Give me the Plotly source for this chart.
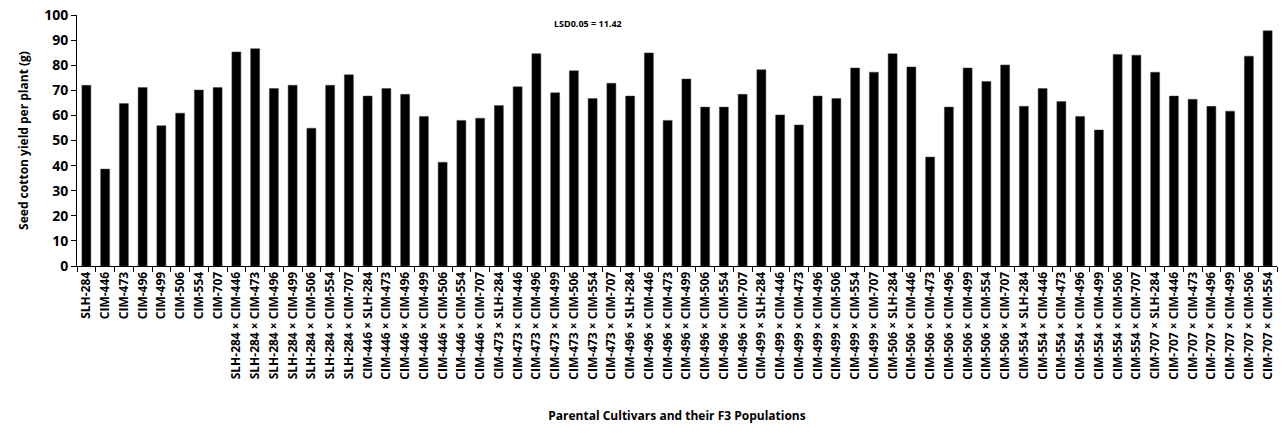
import plotly.graph_objects as go

# Parents and F3 cross populations, in plotting order
parents = ["SLH-284", "CIM-446", "CIM-473", "CIM-496", "CIM-499", "CIM-506", "CIM-554", "CIM-707"]
crosses = [
    "SLH-284 × CIM-446", "SLH-284 × CIM-473", "SLH-284 × CIM-496", "SLH-284 × CIM-499",
    "SLH-284 × CIM-506", "SLH-284 × CIM-554", "SLH-284 × CIM-707",
    "CIM-446 × SLH-284", "CIM-446 × CIM-473", "CIM-446 × CIM-496", "CIM-446 × CIM-499",
    "CIM-446 × CIM-506", "CIM-446 × CIM-554", "CIM-446 × CIM-707",
    "CIM-473 × SLH-284", "CIM-473 × CIM-446", "CIM-473 × CIM-496", "CIM-473 × CIM-499",
    "CIM-473 × CIM-506", "CIM-473 × CIM-554", "CIM-473 × CIM-707",
    "CIM-496 × SLH-284", "CIM-496 × CIM-446", "CIM-496 × CIM-473", "CIM-496 × CIM-499",
    "CIM-496 × CIM-506", "CIM-496 × CIM-554", "CIM-496 × CIM-707",
    "CIM-499 × SLH-284", "CIM-499 × CIM-446", "CIM-499 × CIM-473", "CIM-499 × CIM-496",
    "CIM-499 × CIM-506", "CIM-499 × CIM-554", "CIM-499 × CIM-707",
    "CIM-506 × SLH-284", "CIM-506 × CIM-446", "CIM-506 × CIM-473", "CIM-506 × CIM-496",
    "CIM-506 × CIM-499", "CIM-506 × CIM-554", "CIM-506 × CIM-707",
    "CIM-554 × SLH-284", "CIM-554 × CIM-446", "CIM-554 × CIM-473", "CIM-554 × CIM-496",
    "CIM-554 × CIM-499", "CIM-554 × CIM-506", "CIM-554 × CIM-707",
    "CIM-707 × SLH-284", "CIM-707 × CIM-446", "CIM-707 × CIM-473", "CIM-707 × CIM-496",
    "CIM-707 × CIM-499", "CIM-707 × CIM-506", "CIM-707 × CIM-554",
]

# Seed cotton yield per plant (g)
parent_yield = [72.0, 38.6, 64.7, 71.1, 55.9, 60.9, 70.1, 71.1]
cross_yield = [
    85.3, 86.6, 70.7, 72.0, 54.9, 72.0, 76.2,
    67.7, 70.7, 68.4, 59.6, 41.3, 58.0, 58.9,
    63.9, 71.4, 84.6, 69.0, 77.8, 66.7, 72.8,
    67.7, 84.9, 58.0, 74.5, 63.3, 63.3, 68.4,
    78.2, 60.2, 56.2, 67.7, 66.7, 78.9, 77.2,
    84.6, 79.3, 43.4, 63.3, 78.9, 73.5, 80.1,
    63.6, 70.7, 65.5, 59.6, 54.2, 84.3, 84.0,
    77.2, 67.7, 66.4, 63.6, 61.7, 83.6, 93.7,
]

y_ticks = list(range(0, 101, 10))
lsd_text = "LSD0.05 = 11.42"

categories = parents + crosses
values = parent_yield + cross_yield

FONT = "Open Sans"

fig = go.Figure(
    go.Bar(
        x=categories,
        y=values,
        marker=dict(color="#000000", line=dict(color="#444444", width=0.5)),
        width=0.48,
    )
)

fig.update_layout(
    width=1282,
    height=433,
    margin=dict(l=77, r=5, t=12, b=167),
    paper_bgcolor="white",
    plot_bgcolor="white",
    showlegend=False,
    font=dict(family=FONT, color="black"),
    annotations=[
        dict(
            text="<b>" + lsd_text + "</b>",
            xref="paper", yref="paper",
            x=0.426, y=1.0,
            xanchor="center", yanchor="top",
            showarrow=False,
            font=dict(size=9, family=FONT, color="black"),
        )
    ],
)

fig.update_xaxes(
    type="category",
    tickangle=-90,
    tickson="boundaries",
    ticks="outside",
    ticklen=5,
    tickcolor="black",
    showline=True,
    linecolor="black",
    linewidth=1,
    showgrid=False,
    tickfont=dict(size=12, family=FONT, weight="bold"),
    title=dict(
        text="<b>Parental Cultivars and their F3 Populations</b>",
        font=dict(size=12, family=FONT),
        standoff=32,
    ),
)

fig.update_yaxes(
    range=[0, 100],
    tickvals=y_ticks,
    ticks="outside",
    ticklen=5,
    tickcolor="black",
    showline=True,
    linecolor="black",
    linewidth=1,
    showgrid=False,
    zeroline=False,
    tickfont=dict(size=14, family=FONT, weight="bold"),
    title=dict(
        text="<b>Seed cotton yield per plant (g)</b>",
        font=dict(size=12, family=FONT),
        standoff=12,
    ),
)

fig.write_html("out.html")
